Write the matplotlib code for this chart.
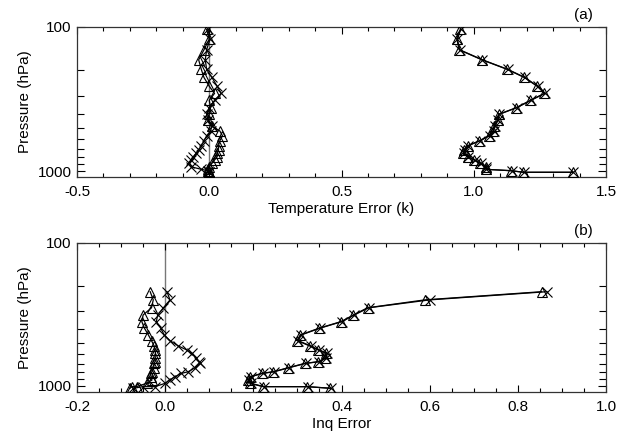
import matplotlib
matplotlib.use("Agg")
import matplotlib.pyplot as plt
from matplotlib.ticker import MultipleLocator, FixedLocator, NullFormatter, FixedFormatter

plt.rcParams['font.family'] = ['Liberation Sans', 'DejaVu Sans']

# ---------------- data: panel (a) temperature ----------------
p_temp = [104, 121, 144, 169, 197, 224, 258, 289, 323, 363, 404, 442, 487, 527,
          569, 617, 667, 711, 754, 795, 839, 884, 933, 973, 995, 1020, 1020]
t_left_tri = [-0.010, 0.000, -0.020, -0.040, -0.030, -0.020, 0.000, 0.020, 0.000, 0.005,
              0.000, -0.005, 0.010, 0.040, 0.050, 0.040, 0.035, 0.035, 0.030, 0.030,
              0.020, 0.010, 0.000, -0.005, -0.005, 0.000, 0.000]
t_left_x = [-0.005, 0.003, -0.010, -0.015, -0.010, 0.010, 0.030, 0.045, 0.020, 0.000,
            -0.010, -0.005, 0.010, 0.005, -0.010, -0.020, -0.030, -0.040, -0.050, -0.060,
            -0.070, -0.075, -0.070, -0.030, -0.005, 0.000, 0.000]
t_right_tri = [0.949, 0.936, 0.945, 1.031, 1.127, 1.191, 1.240, 1.267, 1.214, 1.161,
               1.094, 1.090, 1.078, 1.073, 1.058, 1.021, 0.977, 0.964, 0.961, 0.977,
               1.001, 1.024, 1.046, 1.046, 1.141, 1.187, 1.374]
t_right_x = [0.951, 0.938, 0.947, 1.033, 1.129, 1.193, 1.242, 1.269, 1.216, 1.163,
             1.096, 1.092, 1.080, 1.075, 1.060, 1.023, 0.979, 0.966, 0.963, 0.979,
             1.003, 1.026, 1.048, 1.048, 1.143, 1.189, 1.376]

# ---------------- data: panel (b) humidity ----------------
p_q = [220, 251, 285, 320, 356, 396, 442, 484, 527, 562, 593, 643, 679, 697, 748,
       798, 819, 865, 912, 961, 1014, 1014, 1041]
q_left_tri = [-0.034, -0.027, -0.031, -0.050, -0.053, -0.047, -0.038, -0.031, -0.025,
              -0.023, -0.022, -0.023, -0.023, -0.025, -0.026, -0.030, -0.033, -0.032,
              -0.030, -0.042, -0.065, -0.075, -0.080]
q_left_x = [0.004, 0.011, -0.004, -0.017, -0.020, -0.010, -0.002, 0.011, 0.030, 0.049,
            0.060, 0.071, 0.077, 0.079, 0.068, 0.052, 0.037, 0.022, 0.010, 0.000,
            -0.023, -0.050, -0.072]
q_right_tri = [0.854, 0.589, 0.459, 0.427, 0.399, 0.349, 0.306, 0.300, 0.328, 0.347,
               0.365, 0.362, 0.347, 0.317, 0.279, 0.245, 0.219, 0.192, 0.188, 0.192,
               0.222, 0.321, 0.374]
q_right_x = [0.866, 0.600, 0.462, 0.429, 0.401, 0.351, 0.308, 0.302, 0.330, 0.349,
             0.368, 0.365, 0.349, 0.319, 0.281, 0.247, 0.221, 0.194, 0.190, 0.194,
             0.224, 0.323, 0.376]

y_major = [100, 1000]
y_minor = [200, 300, 400, 500, 600, 700, 800, 900]

fig = plt.figure(figsize=(6.22, 4.34), dpi=100)
ax1 = fig.add_axes([77/622, 1-177/434, 529/622, 150/434])
ax2 = fig.add_axes([77/622, 1-391.7/434, 529/622, 149/434])

def style(ax, xlim, xmaj, xmin, xlabel, tag):
    ax.set_yscale('log')
    ax.set_ylim(1100, 100)
    ax.set_xlim(*xlim)
    ax.axvline(0, color='#777777', lw=1.0, zorder=1)
    ax.yaxis.set_major_locator(FixedLocator(y_major))
    ax.yaxis.set_major_formatter(FixedFormatter([str(v) for v in y_major]))
    ax.yaxis.set_minor_locator(FixedLocator(y_minor))
    ax.yaxis.set_minor_formatter(NullFormatter())
    ax.xaxis.set_major_locator(MultipleLocator(xmaj))
    ax.xaxis.set_minor_locator(MultipleLocator(xmin))
    ax.xaxis.set_major_formatter(matplotlib.ticker.FormatStrFormatter('%.1f'))
    ax.tick_params(axis='both', which='both', direction='in', top=True, right=True,
                   labelsize=11, colors='black', width=0.8)
    ax.tick_params(axis='x', which='major', length=5, pad=6)
    ax.tick_params(axis='x', which='minor', length=3)
    ax.tick_params(axis='y', which='major', length=6, pad=4)
    ax.tick_params(axis='y', which='minor', length=5)
    for s in ax.spines.values():
        s.set_linewidth(0.9)
        s.set_color('#333333')
    ax.set_ylabel('Pressure (hPa)', fontsize=11, labelpad=4)
    ax.set_xlabel(xlabel, fontsize=11, labelpad=2)
    ax.text(0.957, 1.03, tag, transform=ax.transAxes, fontsize=11, ha='center', va='bottom')

def series(ax, x, p, marker):
    ax.plot(x, p, color='black', lw=0.9, marker=marker, ms=6.5, mfc='none',
            mec='black', mew=0.8, zorder=3)

series(ax1, t_left_tri, p_temp, '^')
series(ax1, t_left_x, p_temp, 'x')
series(ax1, t_right_tri, p_temp, '^')
series(ax1, t_right_x, p_temp, 'x')
style(ax1, (-0.5, 1.5), 0.5, 0.1, 'Temperature Error (k)', '(a)')

series(ax2, q_left_tri, p_q, '^')
series(ax2, q_left_x, p_q, 'x')
series(ax2, q_right_tri, p_q, '^')
series(ax2, q_right_x, p_q, 'x')
style(ax2, (-0.2, 1.0), 0.2, 0.05, 'Inq Error', '(b)')

fig.savefig('out.png', dpi=100)
